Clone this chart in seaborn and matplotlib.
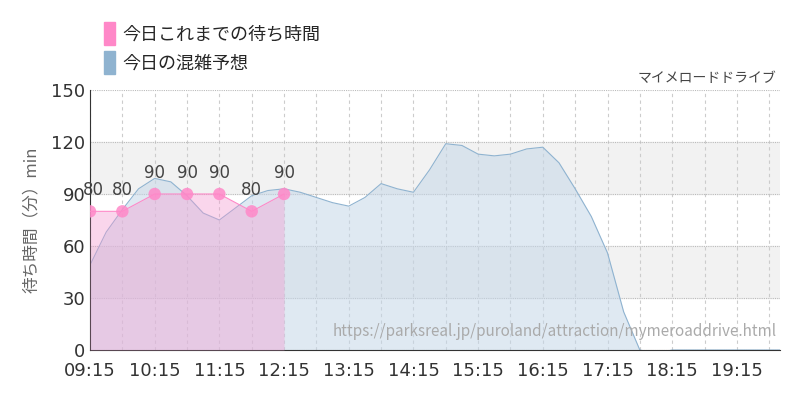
import numpy as np
import pandas as pd
import seaborn as sns
import matplotlib
matplotlib.use("Agg")
from matplotlib import pyplot as plt
from matplotlib.patches import Patch

# minutes after 09:15
actual_min = [0, 30, 60, 90, 120, 150, 180]
actual_wait = [80, 80, 90, 90, 90, 80, 90]

forecast_min = [0, 15, 30, 45, 60, 75, 90, 105, 120, 135, 150, 165, 180, 195, 210, 225,
                240, 255, 270, 285, 300, 315, 330, 345, 360, 375, 390, 405, 420, 435,
                450, 465, 480, 495, 510, 525, 540, 555, 570, 585, 600, 615, 640]
forecast_wait = [49, 68, 81, 93, 99, 97, 89, 79, 75, 82, 89, 92, 93, 91, 88, 85,
                 83, 88, 96, 93, 91, 104, 119, 118, 113, 112, 113, 116, 117, 108,
                 93, 77, 56, 22, 0, -2, 0, 0, 0, 0, 0, 0, 0]

tick_labels = ["09:15", "10:15", "11:15", "12:15", "13:15", "14:15", "15:15",
               "16:15", "17:15", "18:15", "19:15"]

sns.set_style("white")
plt.rcParams['font.family'] = ['Noto Sans CJK JP', 'DejaVu Sans']

fig = plt.figure(figsize=(8, 4), dpi=100)
ax = fig.add_axes([0.1125, 0.125, 0.8625, 0.65])

df_f = pd.DataFrame({"t": forecast_min, "w": forecast_wait})
df_a = pd.DataFrame({"t": actual_min, "w": actual_wait})

blue = "#8fb3d0"
pink = "#ff88c8"

for lo, hi in [(30, 60), (90, 120)]:
    ax.axhspan(lo, hi, color="#f2f2f2", zorder=0)

ax.fill_between(df_f.t, df_f.w, color="#c5d7e8", alpha=0.55, lw=0, zorder=1)
sns.lineplot(data=df_f, x="t", y="w", color=blue, lw=0.8, ax=ax, zorder=2)
ax.fill_between(df_a.t, df_a.w, color="#f39ad0", alpha=0.4, lw=0, zorder=3)
sns.lineplot(data=df_a, x="t", y="w", color=pink, lw=0.8, ax=ax, zorder=4)
sns.scatterplot(data=df_a, x="t", y="w", color=pink, s=80, alpha=0.85,
                edgecolor="none", ax=ax, zorder=5)
for i, (t, w) in enumerate(zip(actual_min, actual_wait)):
    ax.text(t + (3 if i == 0 else 0), w + 7, str(w), ha="center", va="bottom",
            fontsize=12, color="#444444", family="DejaVu Sans", zorder=6)

ax.set_xlim(0, 640)
ax.set_ylim(0, 150)
ax.set_xticks(range(0, 640, 60))
ax.set_xticklabels(tick_labels)
ax.set_xticks(range(30, 640, 60), minor=True)
ax.set_yticks([0, 30, 60, 90, 120, 150])
ax.tick_params(axis="both", labelsize=13, colors="#333333", length=0)
ax.tick_params(axis="x", which="major", length=5, color="#333333")
for lbl in ax.get_xticklabels() + ax.get_yticklabels():
    lbl.set_family("DejaVu Sans")
ax.grid(axis="x", which="both", color="#cccccc", ls=(0, (3, 3)), lw=0.8)
ax.grid(axis="y", color="#bbbbbb", ls=(0, (1, 1)), lw=0.8)
ax.set_axisbelow(True)
for s in ["top", "right"]:
    ax.spines[s].set_visible(False)
ax.spines["left"].set_color("#333333")
ax.spines["bottom"].set_color("#333333")
ax.set_xlabel("")
ax.set_ylabel("待ち時間（分）min", fontsize=12, color="#666666", labelpad=8)

ax.text(0.995, 1.02, "マイメロードドライブ", transform=ax.transAxes, ha="right",
        va="bottom", fontsize=10, color="#444444")
ax.text(0.995, 0.04, "https://parksreal.jp/puroland/attraction/mymeroaddrive.html",
        transform=ax.transAxes, ha="right", va="bottom", fontsize=11, color="#aaaaaa")

handles = [Patch(color=pink, label="今日これまでの待ち時間"),
           Patch(color=blue, label="今日の混雑予想")]
fig.legend(handles=handles, loc="upper left", bbox_to_anchor=(0.11, 0.985),
           frameon=False, fontsize=13, handlelength=0.6, handleheight=1.6,
           labelspacing=0.3, handletextpad=0.4)

fig.savefig("out.png", dpi=100)
